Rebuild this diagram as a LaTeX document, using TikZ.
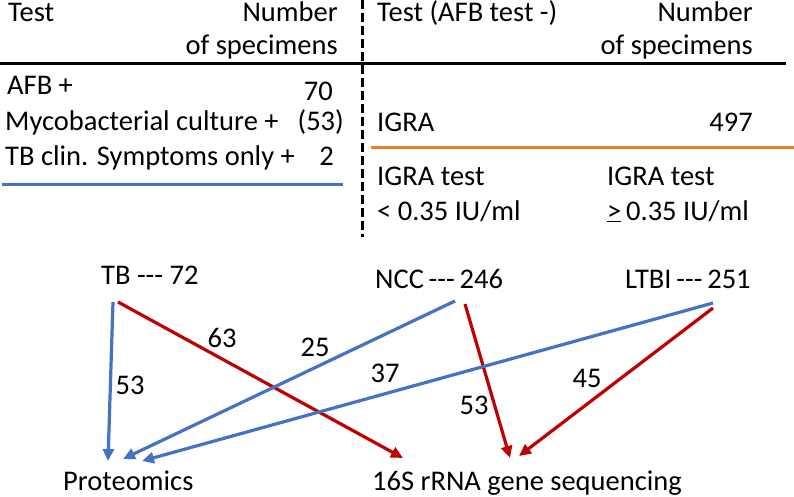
\documentclass[tikz,border=0pt]{standalone}
\usepackage{fontspec}
\setmainfont{Carlito}
\usetikzlibrary{arrows.meta}
\definecolor{cblue}{HTML}{4472C4}
\definecolor{cred}{HTML}{C00000}
\definecolor{corange}{HTML}{ED7D31}
\begin{document}
\begin{tikzpicture}[x=1pt,y=-1pt,
  txt/.style={inner sep=0pt,font=\fontsize{28.5}{32}\selectfont},
  lw/.style={txt,anchor=base west},
  le/.style={txt,anchor=base east},
  lc/.style={txt,anchor=center},
  rule/.style={line width=3pt},
  bluearr/.style={cblue,line width=3.2pt,-{Triangle[length=12pt,width=11pt]}},
  redarr/.style={cred,line width=3.2pt,-{Triangle[length=12pt,width=11pt]}}]
\useasboundingbox (0,0) rectangle (794,497);
% table headers
\node[lw] (t1) at (8,22) {Test};
\node[le] (n1) at (338,22) {Number};
\node[le] (s1) at (338,55) {of specimens};
\node[lw] (t2) at (377,22) {Test (AFB test -)};
\node[le] (n2) at (753,22) {Number};
\node[le] (s2) at (753,55) {of specimens};
\draw[rule] (0,64) -- (786,64);
\draw[rule,dash pattern=on 9pt off 4pt] (362,0) -- (362,237);
% left table
\node[lw] (afb) at (7,95) {AFB +};
\node[le] (afbn) at (333,101) {70};
\node[lw] (myc) at (5,131) {Mycobacterial culture +};
\node[le] (mycn) at (344,131) {(53)};
\node[lw] (tbc) at (5,165) {TB clin. Symptoms only +};
\node[le] (tbcn) at (334,165) {2};
\draw[rule,cblue] (2,184) -- (343,184);
% right table
\node[lw] (igra) at (377,132) {IGRA};
\node[le] (igran) at (753,132) {497};
\draw[rule,corange] (371,148) -- (794,148);
\node[lw] (ig1) at (377,185) {IGRA test};
\node[lw] (ig1b) at (377,220) {< 0.35 IU/ml};
\node[lw] (ig2) at (607,185) {IGRA test};
\node[lw] (ig2b) at (607,220) {\underline{>}\,0.35 IU/ml};
% groups
\node[lw] (tb) at (101,284) {TB -{}-{}- 72};
\node[lw] (ncc) at (375,288) {NCC\,-{}-{}-\,246};
\node[lw] (ltbi) at (625,288) {LTBI\,-{}-{}-\,251};
\node[lw] (prot) at (63,490) {Proteomics};
\node[lw] (seq) at (372,490) {16S rRNA gene sequencing};
% connector ends
\coordinate (tbB) at (113,302);
\coordinate (tbR) at (118,302);
\coordinate (nccB) at (455,301);
\coordinate (nccR) at (465,304);
\coordinate (ltB) at (713,303);
\coordinate (ltR) at (713,308);
\coordinate (p1) at (108,461);
\coordinate (p2) at (123,459);
\coordinate (p3) at (142,461);
\coordinate (q1) at (403,458);
\coordinate (q2) at (510,458);
\coordinate (q3) at (519,456);
\draw[bluearr] (tbB) -- (p1);
\draw[redarr] (tbR) -- (q1);
\draw[bluearr] (nccB) -- (p2);
\draw[redarr] (nccR) -- (q2);
\draw[bluearr] (ltB) -- (p3);
\draw[redarr] (ltR) -- (q3);
% labels
\node[lc] (l53a) at (130,385) {53};
\node[lc] (l63) at (222,338) {63};
\node[lc] (l25) at (315,347) {25};
\node[lc] (l37) at (385,373) {37};
\node[lc] (l53b) at (474,405) {53};
\node[lc] (l45) at (587,378) {45};
\end{tikzpicture}
\end{document}
